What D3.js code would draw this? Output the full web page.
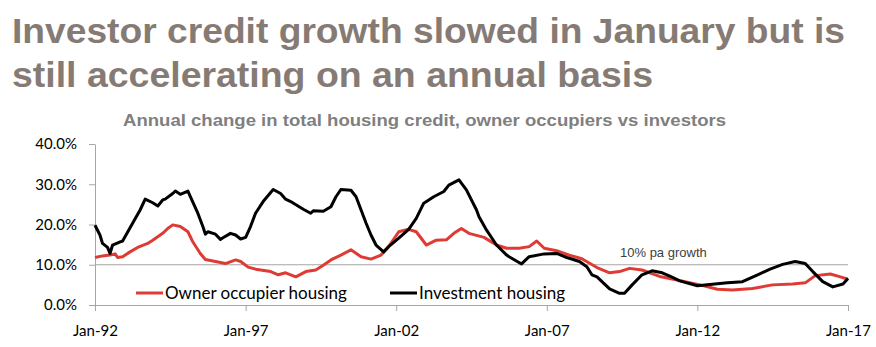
<!DOCTYPE html>
<html>
<head>
<meta charset="utf-8">
<script src="https://cdn.jsdelivr.net/npm/d3@7"></script>
<style>
  body { margin: 0; background: #fff; }
  svg { display: block; }
</style>
</head>
<body>
<div id="viz"></div>
<script>
// annual % change in housing credit
var investDates = ["1992-01","1992-03","1992-04","1992-06","1992-07","1992-08","1992-11","1992-12","1993-04","1993-07",
  "1993-09","1993-12","1994-02","1994-04","1994-05","1994-08","1994-09","1994-11","1995-02","1995-03",
  "1995-06","1995-08","1995-09","1995-10","1996-01","1996-03","1996-04","1996-07","1996-09","1996-11",
  "1997-01","1997-03","1997-05","1997-08","1997-12","1998-03","1998-05","1998-07","1998-12","1999-03",
  "1999-04","1999-08","1999-11","2000-01","2000-03","2000-07","2000-09","2000-11","2001-01","2001-03",
  "2001-05","2001-08","2001-10","2002-02","2002-06","2002-09","2002-12","2003-04","2003-08","2003-10",
  "2004-02","2004-05","2004-09","2004-10","2005-01","2005-05","2005-09","2005-10","2006-03","2006-06",
  "2006-12","2007-05","2007-09","2008-02","2008-05","2008-07","2008-09","2009-02","2009-06","2009-08",
  "2009-11","2010-03","2010-07","2010-11","2011-02","2011-06","2012-01","2012-06","2013-01","2013-07",
  "2014-01","2014-06","2014-11","2015-04","2015-08","2015-11","2016-03","2016-07","2016-11","2017-01"]
var investValues = [19.8,17.4,15.3,14.3,12.8,14.9,15.7,15.9,20.3,23.6,
  26.3,25.4,24.6,26.1,26.3,27.7,28.3,27.5,28.3,27.0,
  22.8,19.5,17.6,18.2,17.6,16.3,16.7,17.8,17.4,16.4,
  16.8,19.5,22.8,25.7,28.7,27.7,26.3,25.7,23.8,22.8,
  23.4,23.3,24.4,26.9,28.7,28.5,26.9,23.6,20.3,17.4,
  14.9,13.2,14.5,16.6,18.8,21.5,25.3,26.9,28.2,29.8,
  31.1,28.6,23.6,21.9,18.6,14.9,12.4,12.0,10.2,12.0,
  12.7,12.8,11.8,10.8,9.5,7.5,7.0,4.0,2.9,2.9,
  5.0,7.5,8.5,8.0,7.2,6.0,4.8,5.1,5.5,5.8,
  7.5,8.9,10.1,10.8,10.3,8.3,5.8,4.5,5.2,6.6]

var ownerDates = ["1992-01","1992-04","1992-07","1992-09","1992-10","1992-12","1993-03","1993-06","1993-10","1993-12",
  "1994-04","1994-06","1994-08","1994-11","1995-02","1995-04","1995-07","1995-09","1996-01","1996-05",
  "1996-09","1996-11","1997-02","1997-05","1997-11","1998-02","1998-05","1998-09","1999-01","1999-05",
  "1999-08","1999-11","2000-03","2000-07","2000-11","2001-03","2001-07","2001-10","2002-02","2002-06",
  "2002-09","2003-01","2003-05","2003-09","2003-12","2004-03","2004-06","2004-12","2005-05","2005-09",
  "2006-02","2006-06","2006-09","2006-12","2007-05","2007-10","2008-03","2008-09","2009-02","2009-06",
  "2009-10","2010-03","2010-10","2011-05","2012-02","2012-09","2013-03","2013-11","2014-07","2015-03",
  "2015-08","2015-12","2016-06","2016-10","2017-01"]
var ownerValues = [11.8,12.2,12.4,12.7,11.8,12.0,13.2,14.3,15.3,16.1,
  17.8,19.0,19.9,19.5,18.2,15.7,12.8,11.3,10.8,10.3,
  11.2,10.8,9.4,8.9,8.3,7.5,8.0,7.0,8.3,8.7,
  9.9,11.2,12.4,13.7,12.0,11.4,12.4,14.5,18.2,18.8,
  18.2,14.9,16.1,16.2,17.8,19.0,17.8,16.8,14.9,14.1,
  14.1,14.5,15.9,14.1,13.5,12.4,11.5,9.3,8.0,8.3,
  9.1,8.7,7.1,6.2,5.0,3.9,3.7,4.1,5.0,5.2,
  5.5,7.3,7.7,7.0,6.4]

var xTickLabels = ["Jan-92","Jan-97","Jan-02","Jan-07","Jan-12","Jan-17"]
var yTicks = [0, 10, 20, 30, 40]
var refLine = 10

var width = 876,
  height = 347,
  margin = {left: 95, right: 28, top: 144, bottom: 42}

var parse = d3.timeParse("%Y-%m")
var parseTick = d3.timeParse("%b-%y")

var invest = investDates.map(function(d, i) { return {date: parse(d), value: investValues[i]} })
var owner = ownerDates.map(function(d, i) { return {date: parse(d), value: ownerValues[i]} })

var svg = d3.select("#viz").append("svg")
  .attr("width", width)
  .attr("height", height)

var x = d3.scaleTime()
  .domain([parse("1992-01"), parse("2017-01")])
  .range([margin.left, width - margin.right])

var y = d3.scaleLinear()
  .domain([0, 40])
  .range([height - margin.bottom, margin.top])

// titles
svg.append("text")
  .attr("x", 12).attr("y", 43)
  .attr("textLength", 833).attr("lengthAdjust", "spacingAndGlyphs")
  .style("font-family", "Liberation Sans, Arial, sans-serif")
  .style("font-weight", "bold").style("font-size", "35px")
  .style("fill", "#867b74")
  .text("Investor credit growth slowed in January but is")
svg.append("text")
  .attr("x", 12).attr("y", 87)
  .attr("textLength", 641).attr("lengthAdjust", "spacingAndGlyphs")
  .style("font-family", "Liberation Sans, Arial, sans-serif")
  .style("font-weight", "bold").style("font-size", "35px")
  .style("fill", "#867b74")
  .text("still accelerating on an annual basis")
svg.append("text")
  .attr("x", 123).attr("y", 126)
  .attr("textLength", 603).attr("lengthAdjust", "spacingAndGlyphs")
  .style("font-family", "Liberation Sans, Arial, sans-serif")
  .style("font-weight", "bold").style("font-size", "17px")
  .style("fill", "#7f7f7f")
  .text("Annual change in total housing credit, owner occupiers vs investors")

// 10% reference line
svg.append("line")
  .attr("x1", x.range()[0]).attr("x2", x.range()[1])
  .attr("y1", y(refLine)).attr("y2", y(refLine))
  .style("stroke", "#a6a6a6").style("stroke-width", 1)
svg.append("text")
  .attr("x", 620).attr("y", y(refLine) - 8)
  .style("font-family", "Liberation Sans, Arial, sans-serif")
  .style("font-size", "13px").style("fill", "#404040")
  .text("10% pa growth")

// axes
var xAxis = d3.axisBottom(x)
  .tickValues(xTickLabels.map(function(d) { return parseTick(d) }))
  .tickFormat(d3.timeFormat("%b-%y"))
  .tickSizeInner(6).tickSizeOuter(0).tickPadding(14)
var gx = svg.append("g")
  .attr("transform", "translate(0," + y(0) + ")")
  .call(xAxis)

var yAxis = d3.axisLeft(y)
  .tickValues(yTicks)
  .tickFormat(function(d) { return d3.format(".1f")(d) + "%" })
  .tickSizeInner(6).tickSizeOuter(0).tickPadding(12)
var gy = svg.append("g")
  .attr("transform", "translate(" + margin.left + ",0)")
  .call(yAxis)

svg.selectAll(".domain, .tick line").style("stroke", "#a6a6a6")
svg.selectAll(".tick text")
  .style("font-family", "Lato, Carlito, Calibri, sans-serif")
  .style("font-size", "15px").style("fill", "#000")

// lines
var line = d3.line()
  .x(function(d) { return x(d.date) })
  .y(function(d) { return y(d.value) })

svg.append("path").datum(owner)
  .attr("d", line)
  .style("fill", "none").style("stroke", "#de3b35").style("stroke-width", 3)
  .style("stroke-linejoin", "round")
svg.append("path").datum(invest)
  .attr("d", line)
  .style("fill", "none").style("stroke", "#000").style("stroke-width", 3)
  .style("stroke-linejoin", "round")

// legend
var legend = [
  {name: "Owner occupier housing", color: "#de3b35", x: 136},
  {name: "Investment housing", color: "#000", x: 390}
]
var lg = svg.selectAll(".legend").data(legend).enter().append("g")
  .attr("class", "legend")
  .attr("transform", function(d) { return "translate(" + d.x + ",293)" })
lg.append("line")
  .attr("x1", 0).attr("x2", 27)
  .style("stroke", function(d) { return d.color }).style("stroke-width", 3)
lg.append("text")
  .attr("x", 29).attr("y", 6)
  .style("font-family", "Lato, Carlito, Calibri, sans-serif")
  .style("font-size", "17px").style("fill", "#000")
  .text(function(d) { return d.name })
</script>
</body>
</html>
